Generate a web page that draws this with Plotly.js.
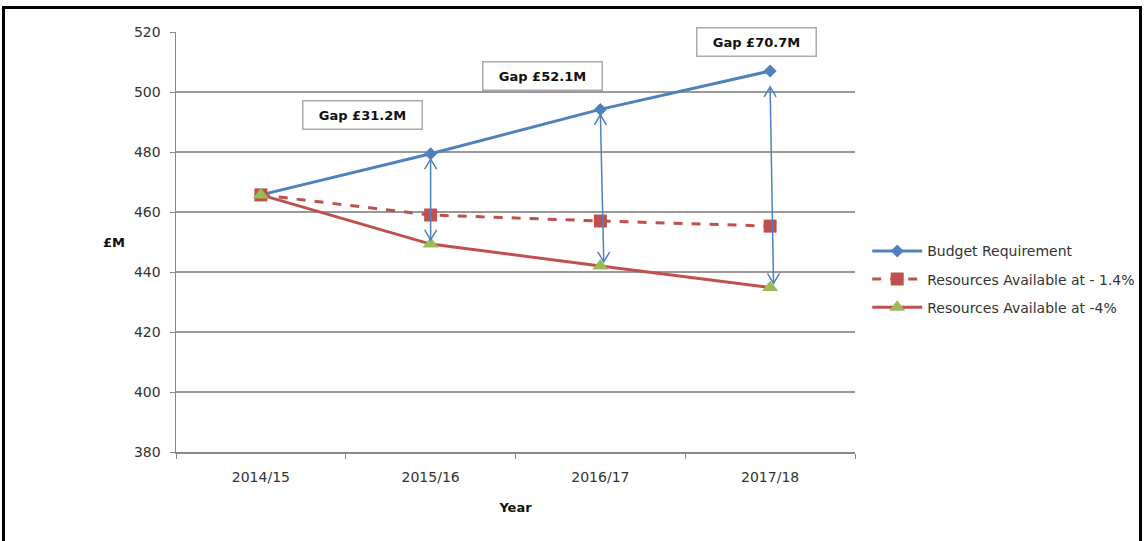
<!DOCTYPE html>
<html>
<head>
<meta charset="utf-8">
<script src="https://cdn.plot.ly/plotly-3.0.1.min.js"></script>
<style>
  html, body { margin: 0; padding: 0; background: #fff; }
  #wrap { position: relative; width: 1146px; height: 541px; overflow: hidden; }
  #chart { position: absolute; left: 0; top: 0; width: 1146px; height: 541px; }
  #frame { position: absolute; left: 2px; top: 6px; width: 1134px; height: 560px; border: 3px solid #000; pointer-events: none; }
</style>
</head>
<body>
<div id="wrap">
  <div id="chart"></div>
  <div id="frame"></div>
</div>
<script>
// ---- data ----
const years = ["2014/15", "2015/16", "2016/17", "2017/18"];
const budgetRequirement = [465.7, 479.4, 494.2, 507.0];
const resources14 = [465.7, 459.0, 457.0, 455.3];
const resources4 = [465.7, 449.3, 442.0, 434.8];
const gapValues = [31.2, 52.1, 70.7];
const gapLabels = gapValues.map(v => "Gap £" + v.toFixed(1) + "M");
const seriesNames = ["Budget Requirement", "Resources Available at - 1.4%", "Resources Available at -4%"];
const yTicks = [380, 400, 420, 440, 460, 480, 500, 520];

const FONT = "DejaVu Sans";
const BLUE = "#4F81BD", RED = "#C0504D", GREEN = "#9BBB59";

const traces = [
  { x: years, y: budgetRequirement, name: seriesNames[0], type: "scatter", mode: "lines+markers",
    line: { color: BLUE, width: 3 }, marker: { symbol: "diamond", size: 10, color: BLUE }, legendgroup: "a" },
  { x: years, y: resources14, name: seriesNames[1], type: "scatter", mode: "lines+markers",
    line: { color: RED, width: 3, dash: "dash" }, marker: { symbol: "square", size: 13, color: RED }, legendgroup: "b" },
  { x: years, y: resources4, name: seriesNames[2], type: "scatter", mode: "lines+markers",
    line: { color: RED, width: 3 }, marker: { symbol: "triangle-up", size: 14, color: GREEN }, legendgroup: "c" }
];

// gap arrows (between budget and -4% resources, years 2..4)
const shapes = [];
const annotations = [];
const boxPos = [[0.6, 492.3], [1.66, 505.4], [2.92, 516.7]];
for (let k = 0; k < gapValues.length; k++) {
  const i = k + 1;
  const top = budgetRequirement[i] - (k === 2 ? 5.3 : 1.8);
  const bot = resources4[i] + 1.4;
  shapes.push({ type: "line", xref: "x", yref: "y", x0: i, x1: i + (k === 0 ? 0 : 0.02), y0: top, y1: bot,
    line: { color: BLUE, width: 1.5 } });
  shapes.push({ type: "path", xref: "x", yref: "y", xsizemode: "pixel", ysizemode: "pixel",
    xanchor: i, yanchor: top, path: "M-6,-10 L0,0 L6,-10", line: { color: BLUE, width: 1.5 } });
  shapes.push({ type: "path", xref: "x", yref: "y", xsizemode: "pixel", ysizemode: "pixel",
    xanchor: i + (k === 0 ? 0 : 0.02), yanchor: bot, path: "M-6,10 L0,0 L6,10", line: { color: BLUE, width: 1.5 } });
  annotations.push({ x: boxPos[k][0], y: boxPos[k][1], xref: "x", yref: "y", text: "<b>" + gapLabels[k] + "</b>",
    showarrow: false, font: { family: FONT, size: 13, color: "#111" }, bgcolor: "#fff",
    bordercolor: "#aaa", borderwidth: 1.5, borderpad: 6, width: 106 });
}
annotations.push({ xref: "paper", yref: "paper", x: -0.11, y: 0.5, text: "<b>£M</b>", showarrow: false,
  font: { family: FONT, size: 13, color: "#111" } });

const layout = {
  width: 1146, height: 541,
  margin: { l: 176, r: 291, t: 32, b: 89, autoexpand: false },
  paper_bgcolor: "#fff", plot_bgcolor: "#fff",
  font: { family: FONT, size: 14, color: "#333" },
  showlegend: true,
  legend: { x: 1.018, y: 0.516, xanchor: "left", yanchor: "top", font: { family: FONT, size: 14, color: "#333" },
    tracegroupgap: 7, traceorder: "grouped", itemwidth: 50, bgcolor: "rgba(0,0,0,0)" },
  xaxis: { type: "category", range: [-0.5, 3.5], showgrid: false, showline: true, linecolor: "#888", linewidth: 1.5,
    ticks: "outside", tickson: "boundaries", ticklen: 5, tickcolor: "#888", ticklabelstandoff: 12,
    tickfont: { family: FONT, size: 14, color: "#333" },
    title: { text: "<b>Year</b>", font: { family: FONT, size: 13, color: "#111" }, standoff: 18 }, zeroline: false, fixedrange: true },
  yaxis: { range: [380, 520], tickvals: yTicks, showgrid: true, gridcolor: "#999", gridwidth: 1.5, showline: true,
    linecolor: "#888", linewidth: 1.5, ticks: "outside", ticklen: 5, tickcolor: "#888", zeroline: false, ticklabelstandoff: 6,
    tickfont: { family: FONT, size: 14, color: "#333" }, fixedrange: true },
  shapes: shapes,
  annotations: annotations
};

Plotly.newPlot("chart", traces, layout, { displayModeBar: false, staticPlot: true });
</script>
</body>
</html>
